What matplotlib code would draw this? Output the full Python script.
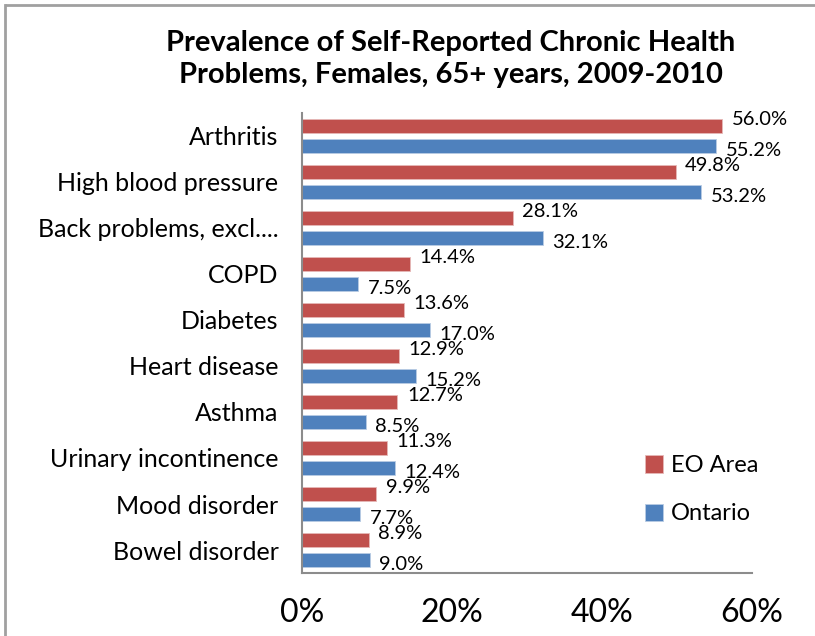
import numpy as np
import matplotlib.pyplot as plt
from matplotlib.lines import Line2D

# categories, top to bottom
conditions = ['Arthritis', 'High blood pressure', 'Back problems, excl....', 'COPD',
              'Diabetes', 'Heart disease', 'Asthma', 'Urinary incontinence',
              'Mood disorder', 'Bowel disorder']
eo_area = [56.0, 49.8, 28.1, 14.4, 13.6, 12.9, 12.7, 11.3, 9.9, 8.9]
ontario = [55.2, 53.2, 32.1, 7.5, 17.0, 15.2, 8.5, 12.4, 7.7, 9.0]
x_ticks = [0, 20, 40, 60]
x_tick_labels = ['0%', '20%', '40%', '60%']

red = '#C0504D'
blue = '#4F81BD'
plt.rcParams['font.family'] = ['Lato', 'DejaVu Sans']

fig = plt.figure(figsize=(8.15, 6.36), dpi=100)
W, H = 815, 636
ax = fig.add_axes([302 / W, (H - 573) / H, (752 - 302) / W, (573 - 113) / H])

y = np.arange(len(conditions))
h = 0.31
off = 0.215
b1 = ax.barh(y - off, eo_area, height=h, color=red, edgecolor='#E6B8B7', linewidth=0.6, label='EO Area')
b2 = ax.barh(y + off, ontario, height=h, color=blue, edgecolor='#B8CCE4', linewidth=0.6, label='Ontario')

for bar, v in zip(b1, eo_area):
    ax.annotate(f'{v:.1f}%', (bar.get_width(), bar.get_y() + bar.get_height() / 2),
                xytext=(7, 4.5), textcoords='offset points', va='center', ha='left',
                fontsize=14.5, annotation_clip=False)
for bar, v in zip(b2, ontario):
    ax.annotate(f'{v:.1f}%', (bar.get_width(), bar.get_y() + bar.get_height() / 2),
                xytext=(7, -3.5), textcoords='offset points', va='center', ha='left',
                fontsize=14.5, annotation_clip=False)

ax.set_xlim(0, 60)
ax.set_ylim(len(conditions) - 0.5, -0.5)
ax.set_yticks(y)
ax.set_yticklabels(conditions, fontsize=18)
ax.set_xticks(x_ticks)
ax.set_xticklabels(x_tick_labels, fontsize=23)
ax.tick_params(axis='y', length=0, pad=17)
ax.tick_params(axis='x', length=0, pad=18)
for s in ['top', 'right']:
    ax.spines[s].set_visible(False)
for s in ['left', 'bottom']:
    ax.spines[s].set_color('#8C8C8C')
    ax.spines[s].set_linewidth(1.5)

fig.text(451 / W, 1 - 59 / H, 'Prevalence of Self-Reported Chronic Health\nProblems, Females, 65+ years, 2009-2010',
         ha='center', va='center', fontsize=21, fontweight='bold', linespacing=1.32)

fig.legend(handles=[b1, b2], loc='upper left', bbox_to_anchor=(624 / W, 1 - 434 / H),
           frameon=False, fontsize=17, handlelength=0.75, handleheight=0.75,
           handletextpad=0.35, labelspacing=1.15)

# outer frame: only left and top edges fall inside the image
fig.add_artist(Line2D([5 / W, 5 / W], [0, 1 - 5 / H], transform=fig.transFigure,
                      color='#A0A0A0', linewidth=2))
fig.add_artist(Line2D([5 / W, 1.02], [1 - 5 / H, 1 - 5 / H], transform=fig.transFigure,
                      color='#A0A0A0', linewidth=2, solid_capstyle='butt'))

fig.savefig('out.png', dpi=100)
